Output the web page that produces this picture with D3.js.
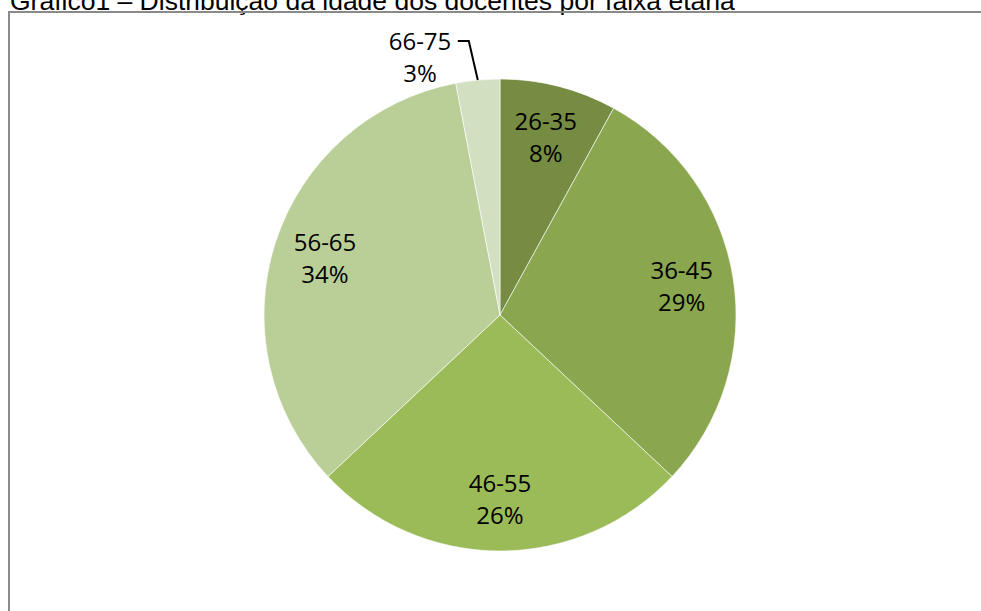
<!DOCTYPE html>
<html>
<head>
<meta charset="utf-8">
<script src="https://cdn.jsdelivr.net/npm/d3@7"></script>
<style>
  html, body { margin: 0; padding: 0; background: #ffffff; }
  svg { display: block; }
</style>
</head>
<body>
<svg id="chart" width="981" height="611"></svg>
<script>
// Age bands of the teaching staff and their share (%)
const categories = ["26-35", "36-45", "46-55", "56-65", "66-75"];
const values = [8, 29, 26, 34, 3];
const colors = ["#758c42", "#8aa64f", "#9bbb59", "#bacf98", "#d2dfc0"];
const title = "Gráfico1 – Distribuição da idade dos docentes por faixa etária";

const data = categories.map((c, i) => ({ label: c, value: values[i], color: colors[i] }));

const svg = d3.select("#chart");
const W = 981, H = 611;
const cx = 500, cy = 315, R = 236, labelR = 184;

// Title (partially clipped at the top edge)
svg.append("text")
  .attr("x", 10)
  .attr("y", 10)
  .attr("font-family", "Liberation Sans, Arial, sans-serif")
  .attr("font-size", 26.5)
  .attr("fill", "#000")
  .text(title);

// Chart frame
svg.append("path")
  .attr("d", `M9,${H + 2} L9,12 L${W + 2},12`)
  .attr("fill", "none")
  .attr("stroke", "#8a8a8a")
  .attr("stroke-width", 2);

const pie = d3.pie().value(d => d.value).sort(null);
const arcs = pie(data);

const arc = d3.arc().innerRadius(0).outerRadius(R);
const labelArc = d3.arc().innerRadius(labelR).outerRadius(labelR);
const outerArc = d3.arc().innerRadius(R).outerRadius(R);

const g = svg.append("g").attr("transform", `translate(${cx},${cy})`);

g.selectAll("path.slice")
  .data(arcs)
  .join("path")
  .attr("class", "slice")
  .attr("d", arc)
  .attr("fill", d => d.data.color)
  .attr("stroke", "#ffffff")
  .attr("stroke-width", 0.6);

const fontFamily = "Open Sans, sans-serif";
const lineGap = 32;

// Labels inside the larger slices
const inside = arcs.filter(d => d.data.value >= 5);
const insideLabels = g.selectAll("text.inlabel")
  .data(inside)
  .join("text")
  .attr("class", "inlabel")
  .attr("font-family", fontFamily)
  .attr("font-size", 24)
  .attr("fill", "#000")
  .attr("text-anchor", "middle")
  .attr("transform", d => {
    const [x, y] = labelArc.centroid(d);
    return `translate(${x},${y})`;
  });
insideLabels.append("tspan").attr("x", 0).attr("y", -7).text(d => d.data.label);
insideLabels.append("tspan").attr("x", 0).attr("y", -7 + lineGap).text(d => d.data.value + "%");

// Small slice: label placed outside with a leader line
const outside = arcs.filter(d => d.data.value < 5);
outside.forEach(d => {
  const [ax, ay] = outerArc.centroid(d);
  const tx = -80, ty = -258;   // label block centre relative to pie centre
  const elbowX = ax - 9, elbowY = ty - 7 - 9;
  g.append("polyline")
    .attr("points", [[ax, ay], [elbowX, elbowY], [elbowX - 11, elbowY]].map(p => p.join(",")).join(" "))
    .attr("fill", "none")
    .attr("stroke", "#000")
    .attr("stroke-width", 2);
  const t = g.append("text")
    .attr("font-family", fontFamily)
    .attr("font-size", 24)
    .attr("fill", "#000")
    .attr("text-anchor", "middle")
    .attr("transform", `translate(${tx},${ty})`);
  t.append("tspan").attr("x", 0).attr("y", -7).text(d.data.label);
  t.append("tspan").attr("x", 0).attr("y", -7 + lineGap).text(d.data.value + "%");
});
</script>
</body>
</html>
